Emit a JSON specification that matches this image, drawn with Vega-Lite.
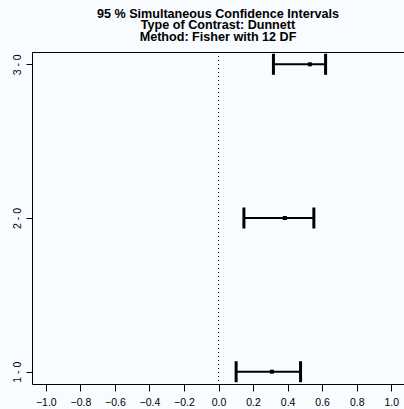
{
  "$schema": "https://vega.github.io/schema/vega-lite/v6.json",
  "autosize": {"type": "none"},
  "padding": {"left": 32, "top": 52, "right": 0, "bottom": 25},
  "width": 372,
  "height": 332,
  "background": "#f8fbff",
  "config": {
    "view": {"stroke": null},
    "font": "Liberation Sans",
    "axis": {"domainColor": "#000000", "tickColor": "#000000", "labelColor": "#000000", "grid": false, "title": null, "labelFont": "Liberation Sans", "labelFontSize": 10.5, "domainWidth": 1, "tickWidth": 1}
  },
  "title": {
    "text": ["95 % Simultaneous Confidence Intervals", "Type of Contrast: Dunnett", "Method: Fisher with 12 DF"],
    "anchor": "middle",
    "font": "Liberation Sans",
    "fontSize": 12.6,
    "fontWeight": "bold",
    "lineHeight": 11.7,
    "baseline": "alphabetic",
    "offset": -2,
    "color": "#000000"
  },
  "data": {"values": [
    {"contrast": "1 - 0", "idx": 1, "estimate": 0.309, "lwr": 0.102, "upr": 0.475},
    {"contrast": "2 - 0", "idx": 2, "estimate": 0.384, "lwr": 0.147, "upr": 0.552},
    {"contrast": "3 - 0", "idx": 3, "estimate": 0.529, "lwr": 0.318, "upr": 0.620}
  ]},
  "resolve": {"axis": {"x": "independent"}},
  "layer": [
    {
      "mark": {"type": "rule", "strokeDash": [1, 3], "color": "#000000", "strokeWidth": 1},
      "encoding": {
        "x": {"datum": 0, "type": "quantitative", "scale": {"domain": [-1.08, 1.074], "nice": false, "zero": false},
          "axis": {"orient": "top", "labels": false, "ticks": false, "domain": true}}
      }
    },
    {
      "mark": {"type": "rule", "color": "#000000", "strokeWidth": 2},
      "encoding": {
        "x": {"field": "lwr", "type": "quantitative",
          "axis": {"orient": "bottom", "values": [-1, -0.8, -0.6, -0.4, -0.2, 0, 0.2, 0.4, 0.6, 0.8, 1], "format": ".1f", "tickSize": 7, "labelPadding": 6, "labelFlush": false, "labelOverlap": false}},
        "x2": {"field": "upr"},
        "y": {"field": "idx", "type": "quantitative", "scale": {"domain": [0.92, 3.08], "nice": false, "zero": false},
          "axis": {"values": [1, 2, 3], "labelExpr": "datum.value + ' - 0'", "labelAngle": 270, "labelAlign": "center", "labelBaseline": "bottom", "tickSize": 6, "labelPadding": 4}}
      }
    },
    {
      "mark": {"type": "tick", "orient": "vertical", "color": "#000000", "thickness": 3, "size": 21, "opacity": 1},
      "encoding": {
        "x": {"field": "lwr", "type": "quantitative", "axis": null},
        "y": {"field": "idx", "type": "quantitative"}
      }
    },
    {
      "mark": {"type": "tick", "orient": "vertical", "color": "#000000", "thickness": 3, "size": 21, "opacity": 1},
      "encoding": {
        "x": {"field": "upr", "type": "quantitative", "axis": null},
        "y": {"field": "idx", "type": "quantitative"}
      }
    },
    {
      "mark": {"type": "point", "shape": "square", "filled": true, "color": "#000000", "size": 16, "opacity": 1},
      "encoding": {
        "x": {"field": "estimate", "type": "quantitative", "axis": null},
        "y": {"field": "idx", "type": "quantitative"}
      }
    }
  ]
}
